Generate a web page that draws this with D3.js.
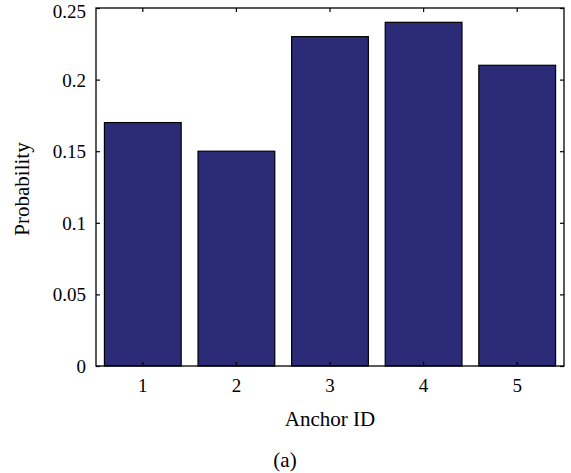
<!DOCTYPE html>
<html><head><meta charset="utf-8">
<script src="https://d3js.org/d3.v7.min.js"></script>
<style>body{margin:0;background:#fff}svg{display:block}text{font-family:"Liberation Serif","Times New Roman",serif;fill:#000}</style>
</head><body><svg id="c" width="571" height="473"></svg>
<script>
const categories = ["1","2","3","4","5"];
const probabilities = [0.17, 0.15, 0.23, 0.24, 0.21];
const yTicks = [0, 0.05, 0.1, 0.15, 0.2, 0.25];
const yTickLabels = ["0","0.05","0.1","0.15","0.2","0.25"];
const xTitle = "Anchor ID", yTitle = "Probability", caption = "(a)";

const svg = d3.select("#c");
const L = 96, R = 564, T = 8, B = 366;
const x = d3.scaleBand().domain(categories).range([L, R]).paddingInner(0.18).paddingOuter(0.09);
const y = d3.scaleLinear().domain([0, 0.25]).range([B, T]);
const fs = 19, tfs = 21;

svg.append("g").selectAll("rect").data(probabilities).join("rect")
  .attr("x", (d,i) => x(categories[i]))
  .attr("y", d => y(d))
  .attr("width", x.bandwidth())
  .attr("height", d => B - y(d))
  .attr("fill", "#2b2b78").attr("stroke", "#000").attr("stroke-width", 1.2);

const tl = 4;
const axL = svg.append("g").attr("transform", `translate(${L},0)`)
  .call(d3.axisLeft(y).tickValues(yTicks).tickSizeInner(-tl).tickSizeOuter(0).tickPadding(10)
    .tickFormat((d,i) => yTickLabels[i]));
const axR = svg.append("g").attr("transform", `translate(${R},0)`)
  .call(d3.axisRight(y).tickValues(yTicks).tickSizeInner(-tl).tickSizeOuter(0).tickFormat(""));
const axB = svg.append("g").attr("transform", `translate(0,${B})`)
  .call(d3.axisBottom(x).tickSizeInner(-tl).tickSizeOuter(0).tickPadding(13));
const axT = svg.append("g").attr("transform", `translate(0,${T})`)
  .call(d3.axisTop(x).tickSizeInner(-tl).tickSizeOuter(0).tickFormat(""));
[axL, axR, axB, axT].forEach(a => {
  a.selectAll(".domain").remove();
  a.selectAll("line").attr("stroke", "#000").attr("stroke-width", 1.2);
  a.selectAll("text").style("font-family", '"Liberation Serif",serif').attr("font-size", fs).attr("fill", "#000");
});
axL.selectAll(".tick text").attr("dy", d => d === 0.25 ? "0.5em" : "0.34em");

svg.append("rect").attr("x", L).attr("y", T).attr("width", R - L).attr("height", B - T)
  .attr("fill", "none").attr("stroke", "#000").attr("stroke-width", 1.3);

svg.append("text").attr("x", (L + R) / 2).attr("y", 426).attr("text-anchor", "middle")
  .attr("font-size", tfs).text(xTitle);
svg.append("text").attr("transform", `translate(29,189) rotate(-90)`)
  .attr("text-anchor", "middle").attr("font-size", tfs).text(yTitle);
svg.append("text").attr("x", 285).attr("y", 467).attr("text-anchor", "middle")
  .attr("font-size", tfs).text(caption);
</script></body></html>
